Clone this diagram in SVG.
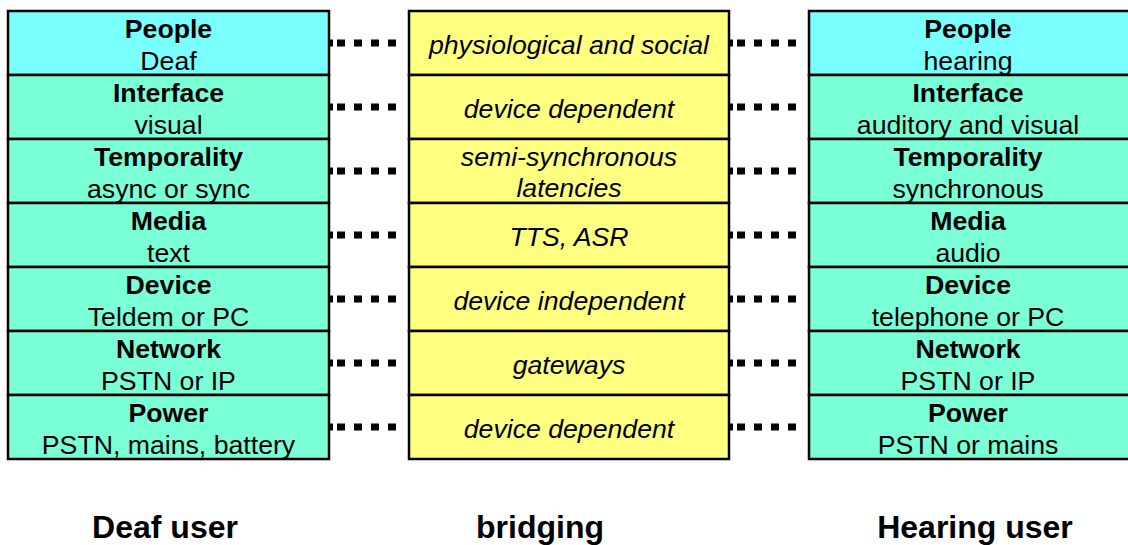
<svg xmlns="http://www.w3.org/2000/svg" width="1128" height="545" viewBox="0 0 1128 545">
<style>
.b{stroke:#000;stroke-width:2.5}
.cy{fill:#7AFFFF}
.gr{fill:#7AFFD6}
.ye{fill:#FFFF80}
text{font-family:"Liberation Sans",Arial,sans-serif;font-size:26.67px;text-anchor:middle;fill:#000}
.h{font-weight:bold}
.i{font-style:italic}
.f{font-weight:bold;font-size:32px}
.d{stroke:#000;stroke-width:7;stroke-dasharray:4 4 8 9 8 9 8 9 8 9;fill:none}
</style>
<rect width="1128" height="545" fill="#fff"/>
<g id="connectors">
<path class="d" d="M329 43H400M329 107H400M329 171H400M329 235H400M329 299H400M329 363H400M329 427H400"/>
<path class="d" d="M729 43H800M729 107H800M729 171H800M729 235H800M729 299H800M729 363H800M729 427H800"/>
</g>
<g id="deaf-user">
<g id="l-people"><rect class="b cy" x="8" y="11" width="321" height="64"/><text x="168.5" y="38" class="h">People</text><text x="168.5" y="70">Deaf</text></g>
<g id="l-interface"><rect class="b gr" x="8" y="75" width="321" height="64"/><text x="168.5" y="102" class="h">Interface</text><text x="168.5" y="134">visual</text></g>
<g id="l-temporality"><rect class="b gr" x="8" y="139" width="321" height="64"/><text x="168.5" y="166" class="h">Temporality</text><text x="168.5" y="198">async or sync</text></g>
<g id="l-media"><rect class="b gr" x="8" y="203" width="321" height="64"/><text x="168.5" y="230" class="h">Media</text><text x="168.5" y="262">text</text></g>
<g id="l-device"><rect class="b gr" x="8" y="267" width="321" height="64"/><text x="168.5" y="294" class="h">Device</text><text x="168.5" y="326">Teldem or PC</text></g>
<g id="l-network"><rect class="b gr" x="8" y="331" width="321" height="64"/><text x="168.5" y="358" class="h">Network</text><text x="168.5" y="390">PSTN or IP</text></g>
<g id="l-power"><rect class="b gr" x="8" y="395" width="321" height="64"/><text x="168.5" y="422" class="h">Power</text><text x="168.5" y="454">PSTN, mains, battery</text></g>
</g>
<g id="bridging">
<g id="m-people"><rect class="b ye" x="409" y="11" width="320" height="64"/><text x="569" y="54" class="i">physiological and social</text></g>
<g id="m-interface"><rect class="b ye" x="409" y="75" width="320" height="64"/><text x="569" y="118" class="i">device dependent</text></g>
<g id="m-temporality"><rect class="b ye" x="409" y="139" width="320" height="64"/><text x="569" y="166" class="i">semi-synchronous</text><text x="569" y="197" class="i">latencies</text></g>
<g id="m-media"><rect class="b ye" x="409" y="203" width="320" height="64"/><text x="569" y="246" class="i">TTS, ASR</text></g>
<g id="m-device"><rect class="b ye" x="409" y="267" width="320" height="64"/><text x="569" y="310" class="i">device independent</text></g>
<g id="m-network"><rect class="b ye" x="409" y="331" width="320" height="64"/><text x="569" y="374" class="i">gateways</text></g>
<g id="m-power"><rect class="b ye" x="409" y="395" width="320" height="64"/><text x="569" y="438" class="i">device dependent</text></g>
</g>
<g id="hearing-user">
<g id="r-people"><rect class="b cy" x="809" y="11" width="321" height="64"/><text x="968" y="38" class="h">People</text><text x="968" y="70">hearing</text></g>
<g id="r-interface"><rect class="b gr" x="809" y="75" width="321" height="64"/><text x="968" y="102" class="h">Interface</text><text x="968" y="134">auditory and visual</text></g>
<g id="r-temporality"><rect class="b gr" x="809" y="139" width="321" height="64"/><text x="968" y="166" class="h">Temporality</text><text x="968" y="198">synchronous</text></g>
<g id="r-media"><rect class="b gr" x="809" y="203" width="321" height="64"/><text x="968" y="230" class="h">Media</text><text x="968" y="262">audio</text></g>
<g id="r-device"><rect class="b gr" x="809" y="267" width="321" height="64"/><text x="968" y="294" class="h">Device</text><text x="968" y="326">telephone or PC</text></g>
<g id="r-network"><rect class="b gr" x="809" y="331" width="321" height="64"/><text x="968" y="358" class="h">Network</text><text x="968" y="390">PSTN or IP</text></g>
<g id="r-power"><rect class="b gr" x="809" y="395" width="321" height="64"/><text x="968" y="422" class="h">Power</text><text x="968" y="454">PSTN or mains</text></g>
</g>
<g id="labels">
<text class="f" x="165" y="538">Deaf user</text>
<text class="f" x="540" y="538">bridging</text>
<text class="f" x="975" y="538">Hearing user</text>
</g>
</svg>
